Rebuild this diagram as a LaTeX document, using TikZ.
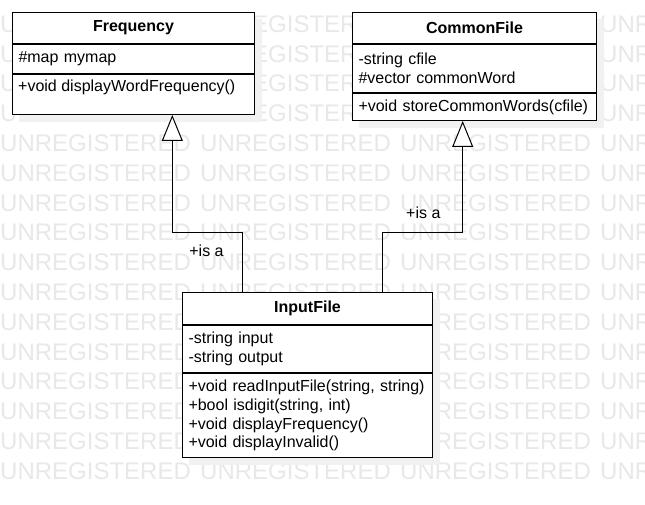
\documentclass[tikz,border=0pt]{standalone}
\usepackage{fontspec}
\setmainfont{Liberation Sans}
\usetikzlibrary{arrows.meta,calc}
\pgfdeclarelayer{wm}
\pgfdeclarelayer{bg}
\pgfsetlayers{wm,bg,main}
\definecolor{wmgray}{HTML}{E8E8E8}
\definecolor{shadowgray}{HTML}{F1F1F1}
\begin{document}
\begin{tikzpicture}[x=1pt,y=-1pt,
  comp/.style={draw=black, line width=1pt, fill=white, anchor=north west, inner sep=0pt,
    font=\fontsize{16}{18.8}\selectfont},
  attr/.style={comp, align=left},
  txt/.style={font=\fontsize{16}{18.8}\selectfont, inner sep=0pt},
  wmtext/.style={font=\fontsize{24}{24}\selectfont, text=wmgray, anchor=west, inner sep=0pt},
  inherit/.style={draw=black, line width=1pt, -{Triangle[length=26pt, width=21pt, fill=white]}},
  shadowbox/.style={fill=shadowgray}
]
\useasboundingbox (0,0) rectangle (645,505);
\begin{pgfonlayer}{wm}
  \fill[white] (0,0) rectangle (645,505);
  \foreach \r in {0,...,15} {
    \foreach \c in {0,...,3} {
      \node[wmtext] (wm-\r-\c) at (200*\c, 24+29.8*\r) {UNREGISTERED};
    }
  }
\end{pgfonlayer}

% Frequency
\node[comp, minimum width=242pt, minimum height=31pt, font=\fontsize{16}{18.8}\selectfont\bfseries] (fH) at (12,12) {Frequency};
\node[attr, minimum width=242pt, minimum height=29pt, text width=230pt] (fA) at (fH.south west) {\#map mymap};
\node[comp, minimum width=242pt, minimum height=40pt] (fM) at (fA.south west) {};
\node[txt, anchor=west] (fMt) at ($(fM.north west)+(6,13)$) {+void displayWordFrequency()};

% CommonFile
\node[comp, minimum width=244pt, minimum height=31pt, font=\fontsize{16}{18.8}\selectfont\bfseries] (cH) at (352,12) {CommonFile};
\node[attr, minimum width=244pt, minimum height=48pt, text width=232pt] (cA) at (cH.south west) {-string cfile\\\#vector commonWord};
\node[attr, minimum width=244pt, minimum height=27pt, text width=232pt] (cM) at (cA.south west) {+void storeCommonWords(cfile)};

% InputFile
\node[comp, minimum width=250pt, minimum height=32pt, font=\fontsize{16}{18.8}\selectfont\bfseries] (iH) at (182,292) {InputFile};
\node[attr, minimum width=250pt, minimum height=47pt, text width=238pt] (iA) at (iH.south west) {-string input\\-string output};
\node[attr, minimum width=250pt, minimum height=84pt, text width=238pt] (iM) at (iA.south west) {+void readInputFile(string, string)\\+bool isdigit(string, int)\\+void displayFrequency()\\+void displayInvalid()};

% shadows
\begin{pgfonlayer}{bg}
  \fill[shadowbox] ($(fH.north west)+(7,7)$) rectangle ($(fM.south east)+(7,7)$);
  \fill[shadowbox] ($(cH.north west)+(7,7)$) rectangle ($(cM.south east)+(7,7)$);
  \fill[shadowbox] ($(iH.north west)+(7,7)$) rectangle ($(iM.south east)+(7,7)$);
\end{pgfonlayer}

% connectors
\coordinate (ia) at ($(iH.north west)+(60.5,0)$);
\coordinate (fa) at ($(fM.south west)+(160.3,0)$);
\coordinate (ic) at ($(iH.north west)+(200.3,0)$);
\coordinate (ca) at ($(cM.south west)+(110.7,0)$);
\draw[inherit] (ia) -- ++(0,-59.8) -| (fa);
\draw[inherit] (ic) -- ++(0,-59.8) -| (ca);

\node[txt] (l1) at (206.5,250.7) {+is a};
\node[txt] (l2) at (423.3,212.7) {+is a};
\end{tikzpicture}
\end{document}
